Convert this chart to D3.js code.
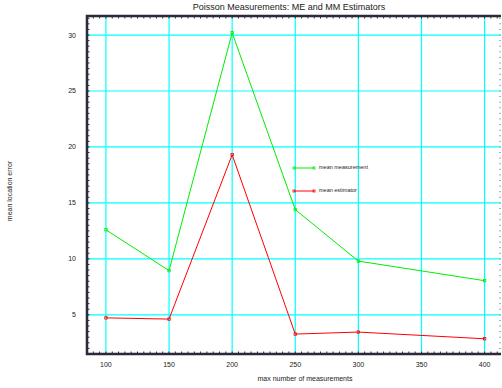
<!DOCTYPE html>
<html>
<head>
<meta charset="utf-8">
<script src="https://cdn.jsdelivr.net/npm/d3@7"></script>
<style>
body { margin: 0; background: #fff; }
text { font-family: "Liberation Sans", Arial, sans-serif; fill: #222; }
</style>
</head>
<body>
<script>
var xValues = [100, 150, 200, 250, 300, 400];
var meanMeasurement = [12.6, 8.95, 30.2, 14.4, 9.8, 8.05];
var meanEstimator = [4.73, 4.62, 19.3, 3.28, 3.46, 2.86];
var xTicks = [100, 150, 200, 250, 300, 350, 400];
var yTicks = [5, 10, 15, 20, 25, 30];
var seriesNames = ["mean measurement", "mean estimator"];
var seriesColors = ["#00ee00", "#ff0000"];

var width = 502, height = 388;
var plotLeft = 87, plotTop = 16, plotRight = 501, plotBottom = 354;

var svg = d3.select("body")
    .append("svg")
    .attr("width", width)
    .attr("height", height);

var x = d3.scaleLinear()
    .domain([85, 413])
    .range([plotLeft, plotRight]);

var y = d3.scaleLinear()
    .domain([1.5, 31.7])
    .range([plotBottom, plotTop]);

// grid lines
svg.append("g")
    .selectAll("line")
    .data(xTicks)
    .enter()
    .append("line")
    .attr("x1", function (d) { return x(d); })
    .attr("x2", function (d) { return x(d); })
    .attr("y1", plotTop)
    .attr("y2", plotBottom)
    .style("stroke", "#00ffff")
    .style("stroke-width", 1.2);

svg.append("g")
    .selectAll("line")
    .data(yTicks)
    .enter()
    .append("line")
    .attr("x1", plotLeft)
    .attr("x2", plotRight)
    .attr("y1", function (d) { return y(d); })
    .attr("y2", function (d) { return y(d); })
    .style("stroke", "#00ffff")
    .style("stroke-width", 1.2);

// minor ticks pointing inwards
var xMinor = d3.range(90, 413, 5);
var yMinor = d3.range(2, 31.7, 0.5);

svg.append("g")
    .selectAll("line")
    .data(xMinor)
    .enter()
    .append("line")
    .attr("x1", function (d) { return x(d); })
    .attr("x2", function (d) { return x(d); })
    .attr("y1", plotBottom)
    .attr("y2", plotBottom - 2.5)
    .style("stroke", "#2a2a3a")
    .style("stroke-width", 1);

svg.append("g")
    .selectAll("line")
    .data(xMinor)
    .enter()
    .append("line")
    .attr("x1", function (d) { return x(d); })
    .attr("x2", function (d) { return x(d); })
    .attr("y1", plotTop)
    .attr("y2", plotTop + 2.5)
    .style("stroke", "#2a2a3a")
    .style("stroke-width", 1);

svg.append("g")
    .selectAll("line")
    .data(yMinor)
    .enter()
    .append("line")
    .attr("x1", plotLeft)
    .attr("x2", plotLeft + 2.5)
    .attr("y1", function (d) { return y(d); })
    .attr("y2", function (d) { return y(d); })
    .style("stroke", "#2a2a3a")
    .style("stroke-width", 1);

svg.append("g")
    .selectAll("line")
    .data(yMinor)
    .enter()
    .append("line")
    .attr("x1", plotRight - 2)
    .attr("x2", plotRight)
    .attr("y1", function (d) { return y(d); })
    .attr("y2", function (d) { return y(d); })
    .style("stroke", "#aaaaaa")
    .style("stroke-width", 1);

// frame (top, left and bottom)
svg.append("path")
    .attr("d", "M" + plotRight + "," + plotTop + "H" + plotLeft + "V" + plotBottom + "H" + plotRight)
    .style("fill", "none")
    .style("stroke", "#2a2a3a")
    .style("stroke-width", 2.5);

// tick labels
svg.append("g")
    .selectAll("text")
    .data(xTicks)
    .enter()
    .append("text")
    .attr("x", function (d) { return x(d); })
    .attr("y", 367)
    .attr("text-anchor", "middle")
    .style("font-size", "7px")
    .text(function (d) { return d; });

svg.append("g")
    .selectAll("text")
    .data(yTicks)
    .enter()
    .append("text")
    .attr("x", 76)
    .attr("y", function (d) { return y(d) + 2.5; })
    .attr("text-anchor", "end")
    .style("font-size", "7px")
    .text(function (d) { return d; });

// series
var series = [meanMeasurement, meanEstimator];
var line = d3.line()
    .x(function (d, i) { return x(xValues[i]); })
    .y(function (d) { return y(d); });

series.forEach(function (values, k) {
    svg.append("path")
        .datum(values)
        .attr("d", line)
        .style("fill", "none")
        .style("stroke", seriesColors[k])
        .style("stroke-width", 1);
    svg.append("g")
        .selectAll("rect")
        .data(values)
        .enter()
        .append("rect")
        .attr("x", function (d, i) { return x(xValues[i]) - 1.2; })
        .attr("y", function (d) { return y(d) - 1.2; })
        .attr("width", 2.4)
        .attr("height", 2.4)
        .style("fill", "none")
        .style("stroke", seriesColors[k])
        .style("stroke-width", 0.8);
});

// legend
var legendY = [168, 191];
seriesNames.forEach(function (name, k) {
    var g = svg.append("g");
    g.append("line")
        .attr("x1", 294).attr("x2", 314)
        .attr("y1", legendY[k]).attr("y2", legendY[k])
        .style("stroke", seriesColors[k])
        .style("stroke-width", 1);
    [294, 314].forEach(function (px) {
        g.append("rect")
            .attr("x", px - 1).attr("y", legendY[k] - 1)
            .attr("width", 2).attr("height", 2)
            .style("fill", "none")
            .style("stroke", seriesColors[k])
            .style("stroke-width", 0.8);
    });
    g.append("text")
        .attr("x", 319)
        .attr("y", legendY[k] + 0.5)
        .style("font-size", "5.5px")
        .text(name);
});

// titles
svg.append("text")
    .attr("x", 289)
    .attr("y", 10)
    .attr("text-anchor", "middle")
    .style("font-size", "9px")
    .text("Poisson Measurements: ME and MM Estimators");

svg.append("text")
    .attr("x", 305)
    .attr("y", 381)
    .attr("text-anchor", "middle")
    .style("font-size", "7px")
    .text("max number of measurements");

svg.append("text")
    .attr("transform", "translate(12,191) rotate(-90)")
    .attr("text-anchor", "middle")
    .style("font-size", "7px")
    .text("mean location error");
</script>
</body>
</html>
